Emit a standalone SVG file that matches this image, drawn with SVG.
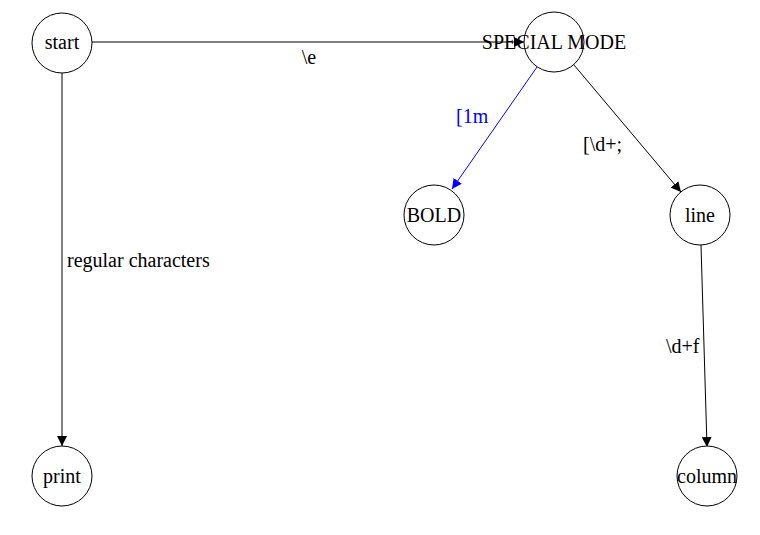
<svg xmlns="http://www.w3.org/2000/svg" width="760" height="535" viewBox="0 0 760 535">
<style>
.node circle{fill:#fff;stroke:#000;stroke-width:1}
text{font-family:'Liberation Serif','Times New Roman',serif;font-size:20px;fill:#000}
.nt{text-anchor:middle}
.e{fill:none;stroke:#000;stroke-width:1}
.blue{stroke:#00f}
text.bl{fill:#00f}
</style>
<defs>
<marker id="ah" viewBox="0 0 10 10" refX="10" refY="5" markerWidth="10" markerHeight="10" markerUnits="userSpaceOnUse" orient="auto"><path d="M0,0 L10,5 L0,10 z" fill="#000"/></marker>
<marker id="ahb" viewBox="0 0 10 10" refX="10" refY="5" markerWidth="10" markerHeight="10" markerUnits="userSpaceOnUse" orient="auto"><path d="M0,0 L10,5 L0,10 z" fill="#00f"/></marker>
</defs>
<g id="edges">
<line class="e" x1="92" y1="42" x2="524" y2="42" marker-end="url(#ah)"/>
<text x="309" y="64" class="nt">\e</text>
<line class="e" x1="62" y1="73" x2="62" y2="446" marker-end="url(#ah)"/>
<text x="67" y="267">regular characters</text>
<line class="e blue" x1="537" y1="67" x2="452" y2="189" marker-end="url(#ahb)"/>
<text x="456" y="123" class="bl">[1m</text>
<line class="e" x1="574" y1="65" x2="681" y2="192" marker-end="url(#ah)"/>
<text x="583" y="151">[\d+;</text>
<line class="e" x1="701" y1="245" x2="707" y2="447" marker-end="url(#ah)"/>
<text x="666" y="353">\d+f</text>
</g>
<g id="start" class="node"><circle cx="62" cy="43" r="30"/><text x="62" y="49" class="nt">start</text></g>
<g id="special" class="node"><circle cx="554" cy="42" r="30"/><text x="554" y="49" class="nt">SPECIAL MODE</text></g>
<g id="bold" class="node"><circle cx="434" cy="215" r="30"/><text x="434" y="222" class="nt">BOLD</text></g>
<g id="line" class="node"><circle cx="700" cy="215" r="30"/><text x="700" y="222" class="nt">line</text></g>
<g id="print" class="node"><circle cx="62" cy="476" r="30"/><text x="62" y="483" class="nt">print</text></g>
<g id="column" class="node"><circle cx="707" cy="476" r="30"/><text x="707" y="483" class="nt">column</text></g>
</svg>
